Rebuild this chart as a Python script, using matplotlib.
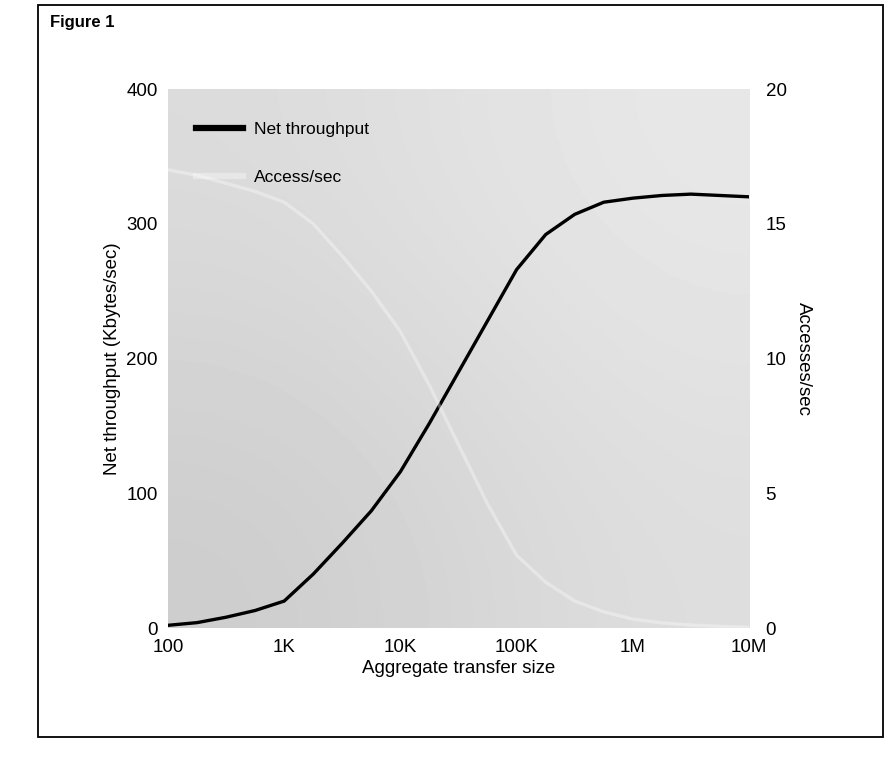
import numpy as np
import matplotlib.pyplot as plt
from matplotlib.patches import Rectangle

# transfer sizes (bytes), quarter-decade steps from 100 to 10M
sizes = [100, 178, 316, 562, 1000, 1778, 3162, 5623, 10000, 17783, 31623,
         56234, 100000, 177828, 316228, 562341, 1000000, 1778279, 3162278,
         5623413, 10000000]

# net throughput (Kbytes/sec)
throughput = [2, 4, 8, 13, 20, 40, 63, 87, 116, 152, 190,
              228, 266, 292, 307, 316, 319, 321, 322, 321, 320]

# accesses/sec, the (white, barely visible) second curve
accesses = [17.0, 16.8, 16.5, 16.2, 15.8, 15.0, 13.8, 12.5, 11.0, 9.0, 6.8,
            4.6, 2.7, 1.7, 1.0, 0.6, 0.33, 0.19, 0.11, 0.06, 0.03]

xtick_vals = [1e2, 1e3, 1e4, 1e5, 1e6, 1e7]
xtick_labels = ["100", "1K", "10K", "100K", "1M", "10M"]
left_ticks = [0, 100, 200, 300, 400]
right_ticks = [0, 5, 10, 15, 20]

plt.rcParams["font.family"] = ["Liberation Sans", "DejaVu Sans"]

fig = plt.figure(figsize=(8.95, 7.57), dpi=100)
ax = fig.add_axes([0.1877, 0.1704, 0.6492, 0.712])

# stippled grey background, darker toward lower left
grad = np.array([[0.86, 0.91], [0.80, 0.87]])
ax.imshow(grad, cmap="gray", vmin=0, vmax=1, extent=[0, 1, 0, 1],
          transform=ax.transAxes, interpolation="bicubic", aspect="auto",
          zorder=0)

ax.set_xscale("log")
ax.set_xlim(100, 1e7)
ax.set_ylim(0, 400)

l1, = ax.plot(sizes, throughput, color="black", lw=2.4, zorder=3,
              solid_joinstyle="round")

ax2 = ax.twinx()
ax2.set_ylim(0, 20)
l2, = ax2.plot(sizes, accesses, color="white", lw=2.4, alpha=0.35, zorder=2)

for a in (ax, ax2):
    for s in a.spines.values():
        s.set_visible(False)

ax.set_xticks(xtick_vals)
ax.set_xticklabels(xtick_labels)
ax.minorticks_off()
ax.set_yticks(left_ticks)
ax2.set_yticks(right_ticks)
ax.tick_params(axis="x", length=0, labelsize=13.5, pad=8)
ax.tick_params(axis="y", length=0, labelsize=13.5, pad=7.5)
ax2.tick_params(axis="y", length=0, labelsize=13.5, pad=12)

ax.set_xlabel("Aggregate transfer size", fontsize=13.5, labelpad=3)
ax.set_ylabel("Net throughput (Kbytes/sec)", fontsize=13.5)
ax.yaxis.set_label_coords(-0.081, 0.5)
ax2.set_ylabel("Accesses/sec", fontsize=13.5, rotation=270, va="center")
ax2.yaxis.set_label_coords(1.093, 0.5)

leg = ax.legend([l1, l2], ["Net throughput", "Access/sec"], loc="upper left",
                frameon=False, fontsize=12.5, handlelength=2.7,
                handletextpad=0.6, bbox_to_anchor=(0.022, 0.968),
                labelspacing=1.9)
leg.get_lines()[0].set_linewidth(4.5)
leg.get_lines()[1].set_linewidth(4.5)

# outer frame and figure title
fig.patches.append(Rectangle((38 / 895, 1 - 737 / 757), 845 / 895, 732 / 757,
                             transform=fig.transFigure, fill=False,
                             edgecolor="black", lw=1.3))
fig.text(50 / 895, 1 - 22 / 757, "Figure 1", fontsize=12, fontweight="bold",
         va="center", ha="left")

fig.savefig("out.png", dpi=100)
